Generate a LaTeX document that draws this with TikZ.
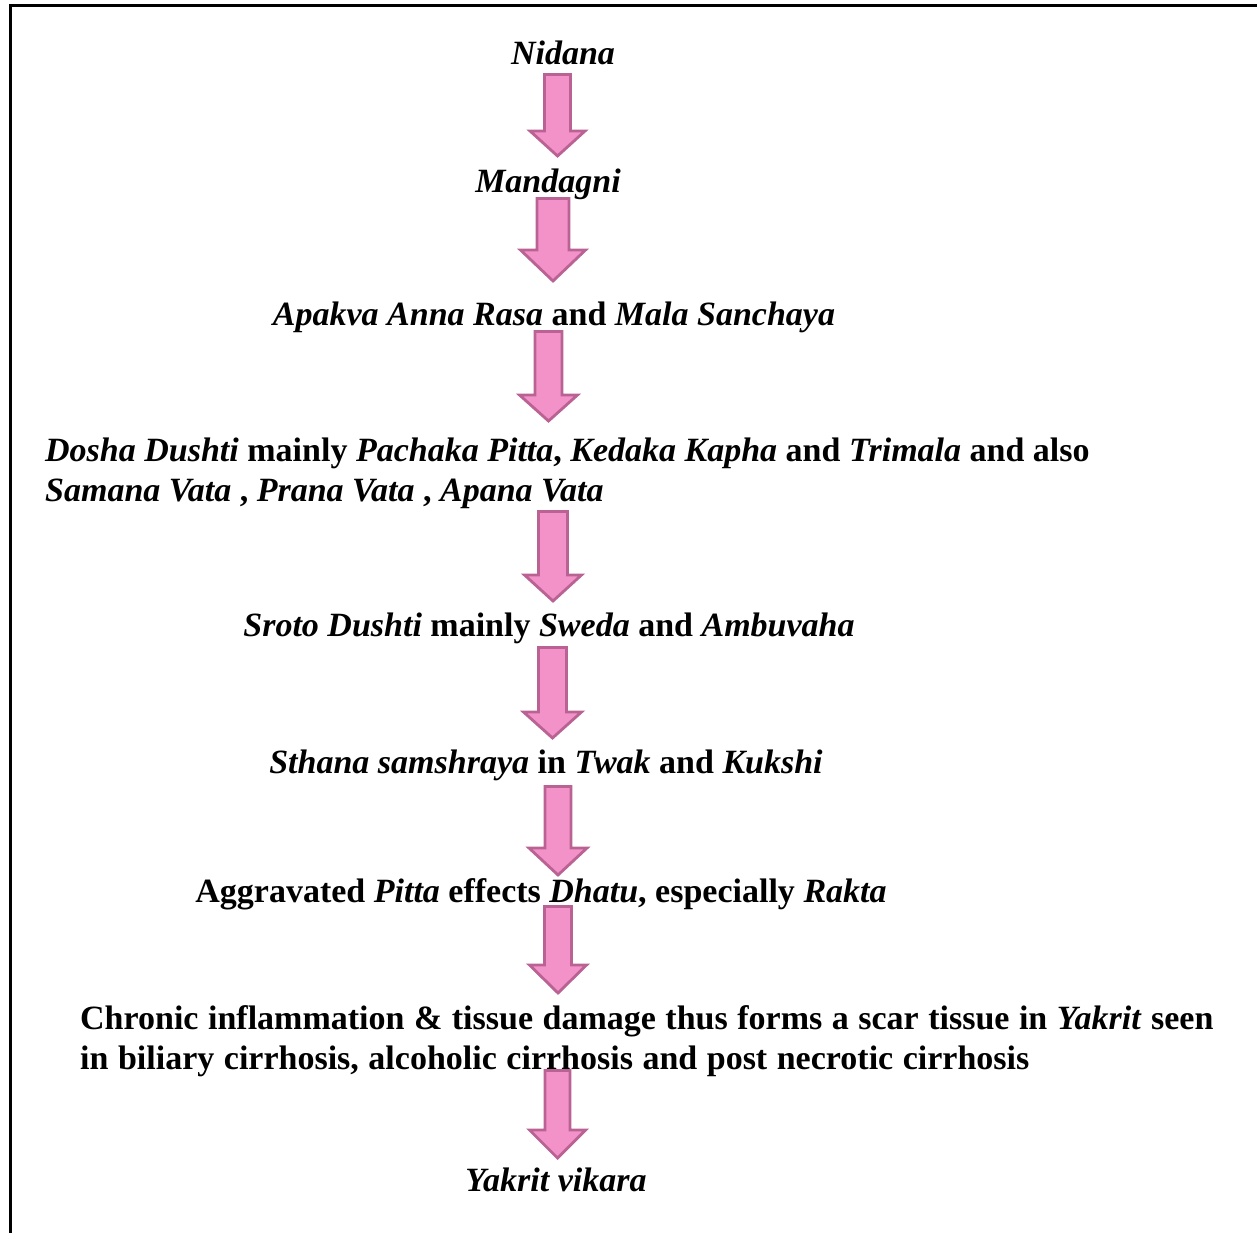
\documentclass[tikz,border=0pt]{standalone}
\usepackage{fontspec}
\setmainfont{Liberation Serif}
\definecolor{arrfill}{RGB}{242,146,200}
\definecolor{arrline}{RGB}{186,98,148}
\tikzset{
  txt/.style={inner sep=0pt, font=\fontsize{34}{39.5}\selectfont\bfseries},
  blockarrow/.style={fill=arrfill, draw=arrline, line width=2.8pt, line join=miter},
  frame/.style={line width=3pt, draw=black}
}
\usetikzlibrary{calc}
% #1 coordinate name (top centre), #2 shaft length, #3 head length, #4 shaft half width, #5 head half width
% (y axis points downwards in this picture)
\newcommand{\blockarr}[5]{%
  \draw[blockarrow] ($(#1)+(-#4,0)$) -- ($(#1)+(#4,0)$) -- ($(#1)+(#4,#2)$) -- ($(#1)+(#5,#2)$)
    -- ($(#1)+(0,#2+#3)$) -- ($(#1)+(-#5,#2)$) -- ($(#1)+(-#4,#2)$) -- cycle;}
\begin{document}
\begin{tikzpicture}[x=1pt,y=-1pt]
\useasboundingbox (0,0) rectangle (1257,1233);
% frame
\coordinate (ftl) at (10.5,6);
\coordinate (ftr) at (1257,6);
\coordinate (fbl) at (10.5,1233);
\draw[frame] (ftr) -- (ftl) -- (fbl);

% arrows (top centre coordinates)
\coordinate (a1) at (557.5,74.5);
\coordinate (a2) at (553,198.5);
\coordinate (a3) at (548.5,331.5);
\coordinate (a4) at (553,511.5);
\coordinate (a5) at (552.5,647.5);
\coordinate (a6) at (558,786.5);
\coordinate (a7) at (558,906.5);
\coordinate (a8) at (557.5,1070.5);

% texts
\node[txt, anchor=base] (t1) at (563,65) {\textit{Nidana}};
\node[txt, anchor=base] (t2) at (548,193) {\textit{Mandagni}};
\node[txt, anchor=base] (t3) at (554,325) {\textit{Apakva Anna Rasa} and \textit{Mala Sanchaya}};
\node[txt, anchor=base west, align=left] (t4) at (45,501) {\textit{Dosha Dushti} mainly \textit{Pachaka Pitta}, \textit{Kedaka Kapha} and \textit{Trimala} and also\\\textit{Samana Vata} , \textit{Prana Vata} , \textit{Apana Vata}};
\node[txt, anchor=base] (t5) at (549,636) {\textit{Sroto Dushti} mainly \textit{Sweda} and \textit{Ambuvaha}};
\node[txt, anchor=base] (t6) at (546,773) {\textit{Sthana samshraya} in \textit{Twak} and \textit{Kukshi}};
\node[txt, anchor=base] (t7) at (541,902) {Aggravated \textit{Pitta} effects \textit{Dhatu}, especially \textit{Rakta}};
\node[txt, anchor=base west, align=left] (t8) at (80,1069) {\spaceskip=0.28em plus 0.1em Chronic inflammation \& tissue damage thus forms a scar tissue in \textit{Yakrit} seen\\\spaceskip=0.28em plus 0.1em in biliary cirrhosis, alcoholic cirrhosis and post necrotic cirrhosis};
\node[txt, anchor=base] (t9) at (556,1191) {\textit{Yakrit vikara}};

\blockarr{a1}{56.5}{25}{13}{27.5}
\blockarr{a2}{51.5}{31}{16}{32.5}
\blockarr{a3}{63.5}{26}{13.5}{29}
\blockarr{a4}{63.5}{26}{14.5}{28.5}
\blockarr{a5}{64.5}{26}{14}{29}
\blockarr{a6}{61.5}{27}{13}{29}
\blockarr{a7}{58.5}{28}{13.5}{28.5}
\blockarr{a8}{59.5}{28}{12.5}{28}
\end{tikzpicture}
\end{document}
